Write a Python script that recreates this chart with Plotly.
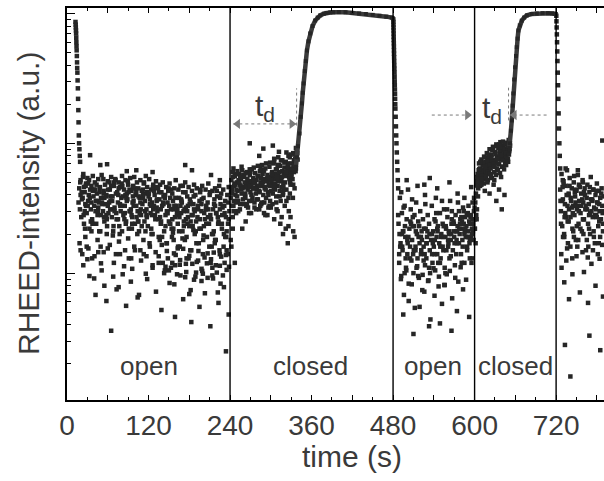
import numpy as np
import plotly.graph_objects as go

# ---------------- data ----------------
shutter_times = [240, 480, 600, 720]
phase_labels = ["open", "closed", "open", "closed"]
phase_label_t = [120, 358, 539, 660]

x_tick_vals = [0, 60, 120, 180, 240, 300, 360, 420, 480, 540, 600, 660, 720, 780]
x_tick_text = ["0", "", "120", "", "240", "", "360", "", "480", "", "600", "", "720", ""]
x_minor_vals = [30, 90, 150, 210, 270, 330, 390, 450, 510, 570, 630, 690, 750]
y_major_vals = [1, 10, 100, 1000]
y_minor_vals = [2, 3, 4, 5, 6, 7, 8, 9, 20, 30, 40, 50, 60, 70, 80, 90,
                200, 300, 400, 500, 600, 700, 800, 900]

# initial decay right after start
init_t = [12.5, 12.8, 13.0, 13.2, 13.4, 13.6, 13.8, 14.0, 14.2, 14.5, 14.8, 15.0,
          15.3, 15.6, 16.0, 16.3, 16.7, 17.0, 17.4, 17.8, 18.3, 18.8, 19.3]
init_I = [860, 820, 780, 740, 700, 650, 600, 560, 520, 470, 420, 380,
          350, 305, 265, 220, 180, 145, 115, 100, 90, 80, 72]

# shutter open, 0-240 s
open1_t = [18, 19, 20, 21, 23, 24, 25, 26, 27, 28,
           29, 30, 31, 33, 34, 35, 36, 37, 38, 39,
           40, 41, 43, 44, 45, 46, 47, 48, 49, 50,
           51, 53, 54, 55, 56, 57, 58, 59, 60, 61,
           63, 64, 65, 66, 67, 68, 69, 70, 71, 73,
           74, 75, 76, 77, 78, 79, 80, 81, 83, 84,
           85, 86, 87, 88, 89, 90, 91, 93, 94, 95,
           96, 97, 98, 99, 100, 101, 103, 104, 105, 106,
           107, 108, 109, 110, 111, 113, 114, 115, 116, 117,
           118, 119, 120, 121, 123, 124, 125, 126, 127, 128,
           129, 130, 131, 133, 134, 135, 136, 137, 138, 139,
           140, 141, 143, 144, 145, 146, 147, 148, 149, 150,
           151, 153, 154, 155, 156, 157, 158, 159, 160, 161,
           163, 164, 165, 166, 167, 168, 169, 170, 171, 173,
           174, 175, 176, 177, 178, 179, 180, 181, 183, 184,
           185, 186, 187, 188, 189, 190, 191, 193, 194, 195,
           196, 197, 198, 199, 200, 201, 203, 204, 205, 206,
           207, 208, 209, 210, 211, 213, 214, 215, 216, 217,
           218, 219, 220, 221, 223, 224, 225, 226, 227, 228,
           229, 230, 231, 233, 234, 235, 236, 237, 238, 239,
           22, 25, 28, 32, 35, 38, 42, 45, 48, 52,
           55, 58, 62, 65, 68, 72, 75, 78, 82, 85,
           88, 92, 95, 98, 102, 105, 108, 112, 115, 118,
           122, 125, 128, 132, 135, 138, 142, 145, 148, 152,
           155, 158, 162, 165, 168, 172, 175, 178, 182, 185,
           188, 192, 195, 198, 202, 205, 208, 212, 215, 218,
           222, 225, 228, 232, 235, 238, 20, 26, 31, 36,
           41, 46, 50, 54, 60, 64, 70, 76, 80, 86,
           92, 97, 102, 107, 112, 117, 122, 127, 132, 137,
           142, 147, 152, 157, 162, 167, 172, 177, 182, 187,
           20, 24, 29, 33, 37, 42, 46, 51, 55, 60,
           65, 69, 73, 78, 82, 87, 91, 96, 100, 104,
           109, 113, 118, 122, 126, 131, 135, 139, 143, 147,
           151, 155, 159, 163, 167, 171, 175, 179, 183, 187,
           191, 195, 199, 203, 207, 211, 215, 219, 223, 227,
           231, 235, 238, 145, 160, 180, 200, 212, 226, 234,
           150, 158, 166, 174, 182, 190, 198, 206, 214, 222,
           30, 40, 50, 58, 68, 76, 84, 94, 106, 116,
           34, 49, 59, 102, 126, 174, 184, 225, 212, 88]
open1_I = [45, 31, 52, 27, 38, 58, 24, 42, 34, 49,
           29, 54, 36, 22, 44, 31, 47, 26, 56, 39,
           33, 50, 24, 41, 28, 53, 35, 45, 21, 38,
           57, 30, 43, 25, 48, 34, 40, 23, 51, 29,
           44, 36, 55, 27, 39, 21, 47, 32, 53, 26,
           42, 35, 50, 23, 46, 30, 38, 56, 28, 44,
           33, 52, 25, 41, 37, 48, 22, 54, 31, 43,
           27, 46, 36, 55, 24, 40, 50, 30, 45, 21,
           38, 52, 28, 43, 34, 49, 25, 41, 56, 31,
           46, 23, 39, 53, 29, 44, 35, 20, 48, 33,
           40, 26, 51, 30, 45, 19, 37, 48, 24, 42,
           33, 50, 21, 38, 28, 46, 17, 35, 43, 25,
           49, 31, 22, 41, 36, 18, 45, 27, 52, 33,
           24, 44, 38, 16, 47, 29, 35, 21, 42, 31,
           50, 26, 19, 39, 33, 46, 23, 37, 15, 43,
           28, 34, 48, 20, 40, 25, 45, 31, 17, 36,
           42, 22, 30, 47, 14, 38, 26, 44, 33, 19,
           35, 49, 24, 40, 28, 16, 43, 31, 21, 37,
           45, 18, 29, 39, 25, 47, 14, 34, 41, 22,
           32, 44, 20, 36, 27, 15, 40, 24, 46, 30,
           37, 46, 33, 40, 25, 43, 30, 36, 42, 34,
           38, 28, 35, 47, 31, 41, 26, 34, 39, 29,
           36, 44, 28, 33, 42, 25, 35, 38, 30, 42,
           34, 28, 43, 36, 26, 31, 39, 23, 29, 38,
           26, 33, 29, 21, 37, 25, 32, 27, 35, 23,
           30, 27, 22, 34, 29, 24, 31, 26, 20, 33,
           27, 31, 24, 29, 21, 26, 40, 30, 49, 35,
           44, 32, 28, 41, 33, 39, 30, 45, 33, 40,
           30, 39, 33, 29, 40, 28, 37, 31, 32, 27,
           34, 30, 24, 31, 28, 33, 23, 30, 25, 31,
           15, 11.5, 16, 9.5, 13, 6.8, 14.5, 10.5, 8, 15.5,
           3.6, 12, 7.5, 14, 9.8, 5.6, 13, 10.8, 15, 6.5,
           12.5, 14, 9, 16, 11, 7.2, 13.5, 5.2, 10, 14.8,
           8.4, 12, 4.6, 15.5, 9.6, 6.3, 11.8, 13, 4.2, 8.9,
           12.2, 5.5, 10.4, 7, 14.2, 3.9, 9.1, 11.5, 5.9, 13.4,
           7.8, 10.6, 4.8, 11.2, 13.8, 6.9, 9.9, 12.8, 8.3, 2.5,
           10.5, 8.2, 11.6, 9.3, 7.4, 10.1, 8.7, 11.9, 9.6, 7.1,
           12.8, 9.1, 11.9, 6.1, 9.4, 7.8, 11.3, 8.6, 6.8, 9.9,
           81, 68, 69, 62, 60, 68, 62, 52, 57, 61]
# further readings inside the dense band, 0-240 s
open1_core_t = [17, 21.5, 24.5, 27.5, 30.5, 33.5, 36.5, 39.5, 42.5, 45.5,
                48.5, 51.5, 54.5, 57.5, 60.5, 63.5, 66.5, 69.5, 72.5, 75.5,
                78.5, 81.5, 84.5, 87.5, 90.5, 93.5, 96.5, 99.5, 102.5, 105.5,
                108.5, 111.5, 114.5, 117.5, 120.5, 123.5, 126.5, 129.5, 132.5, 135.5,
                138.5, 141.5, 144.5, 147.5, 150.5, 153.5, 156.5, 159.5, 162.5, 165.5,
                168.5, 171.5, 174.5, 177.5, 180.5, 183.5, 186.5, 189.5, 192.5, 195.5,
                198.5, 201.5, 204.5, 207.5, 210.5, 213.5, 216.5, 219.5, 222.5, 225.5,
                228.5, 231.5, 234.5, 237.5, 19.5, 23.5, 32.5, 43.5, 53.5, 62.5,
                71.5, 80.5, 89.5, 97.5, 113.5, 131.5, 149.5, 170.5, 196.5, 220.5,
                26.5, 37.5, 47.5, 58.5, 68.5, 77.5, 86.5, 95.5, 104.5, 115.5,
                124.5, 136.5, 146.5, 154.5, 163.5, 173.5, 181.5, 190.5, 200.5, 209.5,
                217.5, 224.5, 230.5, 236.5, 141, 159, 176, 193, 214, 232,
                18.5, 22.5, 27, 31.5, 36, 40.5, 45, 49.5, 54, 58.5,
                63, 67.5, 72, 76.5, 81, 85.5, 90, 94.5, 99, 103.5,
                108, 112.5, 117, 121.5, 126, 130.5, 135, 139.5, 144, 148.5,
                153, 157.5, 162, 166.5, 171, 175.5, 180, 184.5, 189, 193.5,
                198, 202.5, 207, 211.5, 216, 220.5, 225, 229.5, 234, 238.5,
                140, 156, 170, 186, 201, 218, 233, 124, 110, 96]
open1_core_I = [35, 42, 28, 47, 33, 38, 25, 44, 36, 30,
                46, 35, 27, 39, 44, 31, 36, 50, 29, 40,
                33, 47, 26, 38, 42, 30, 35, 45, 27, 39,
                31, 44, 36, 27, 41, 33, 46, 28, 37, 42,
                25, 35, 40, 29, 33, 44, 22, 38, 31, 27,
                36, 30, 42, 24, 34, 28, 39, 21, 33, 26,
                37, 23, 31, 27, 42, 20, 34, 29, 24, 38,
                28, 33, 19, 35, 50, 55, 52, 48, 53, 50,
                52, 49, 51, 47, 50, 46, 45, 47, 44, 43,
                22, 24, 21, 26, 23, 20, 24, 22, 25, 21,
                20, 18, 17, 19, 16, 18, 15, 17, 18, 16,
                17, 15, 16, 14, 12, 11.5, 13, 12.5, 11, 12,
                17, 14, 19, 15.5, 21, 13.5, 18, 16, 14.5, 20,
                16.5, 19.5, 14, 17.5, 21, 15, 18.5, 13, 16, 20,
                15, 18, 13.5, 17, 11.5, 14.5, 12, 16.5, 10.5, 13,
                11, 14.2, 9.8, 12.6, 15.4, 10.2, 13.6, 11.8, 9.4, 14.8,
                10.8, 13.2, 9.2, 12, 14.4, 10.1, 11.4, 9.6, 13.8, 11.2,
                19, 20.5, 18.5, 21.5, 19.5, 18, 19, 22, 23, 24]

# shutter closed, 240-338 s (before the rise)
closed1_t = [241, 242, 243, 244, 245, 246, 247, 248, 249, 250,
             251, 252, 253, 254, 255, 256, 257, 258, 259, 260,
             261, 262, 263, 264, 265, 266, 267, 268, 269, 270,
             271, 272, 273, 274, 275, 276, 277, 278, 279, 280,
             281, 282, 283, 284, 285, 286, 287, 288, 289, 290,
             291, 292, 293, 294, 295, 296, 297, 298, 299, 300,
             301, 302, 303, 304, 305, 306, 307, 308, 309, 310,
             311, 312, 313, 314, 315, 316, 317, 318, 319, 320,
             321, 322, 323, 324, 325, 326, 327, 328, 329, 330,
             331, 332, 333, 334, 335, 336, 337, 338, 334, 330,
             240.5, 243.5, 246.5, 249.5, 252.5, 255.5, 258.5, 261.5, 264.5, 267.5,
             270.5, 273.5, 276.5, 279.5, 282.5, 285.5, 288.5, 291.5, 294.5, 297.5,
             300.5, 303.5, 306.5, 309.5, 312.5, 315.5, 318.5, 321.5, 324.5, 327.5,
             244, 252, 263, 271, 283, 295, 305, 314, 322, 329,
             318, 326, 333, 310, 300, 247, 335, 325, 290, 258,
             269, 289, 303, 312, 283, 241, 242, 244]
closed1_I = [38, 52, 44, 60, 33, 47, 56, 40, 29, 50,
             43, 36, 58, 48, 34, 53, 41, 62, 37, 46,
             55, 39, 49, 33, 60, 44, 51, 36, 57, 42,
             48, 63, 38, 54, 45, 35, 59, 41, 52, 47,
             37, 56, 43, 61, 50, 34, 47, 58, 40, 53,
             45, 64, 38, 51, 57, 42, 48, 66, 36, 55,
             49, 60, 41, 70, 53, 44, 58, 39, 63, 47,
             56, 68, 43, 52, 74, 46, 61, 40, 57, 65,
             50, 72, 44, 59, 66, 38, 55, 78, 48, 62,
             70, 53, 84, 60, 45, 76, 64, 88, 72, 58,
             46, 41, 49, 44, 52, 47, 45, 50, 46, 48,
             51, 45, 49, 44, 47, 54, 50, 46, 52, 48,
             52, 57, 49, 54, 60, 51, 48, 56, 62, 53,
             27, 30, 25, 29, 31, 28, 26, 24, 22, 27,
             20, 23, 21, 30, 32, 12, 19, 17, 29, 22,
             100, 91, 96, 86, 80, 18, 16, 22]
closed1_core_t = [241.5, 244.5, 247.5, 250.5, 253.5, 256.5, 259.5, 262.5, 265.5, 268.5,
                  271.5, 274.5, 277.5, 280.5, 283.5, 286.5, 289.5, 292.5, 295.5, 298.5,
                  301.5, 304.5, 307.5, 310.5, 313.5, 316.5, 319.5, 322.5, 325.5, 328.5,
                  331.5, 334.5, 337.5, 330.5, 333.5, 336.5, 245.5, 262.5, 279.5, 296.5,
                  313, 318, 323, 328, 333, 308, 298, 287, 276, 265,
                  250, 270, 290, 310, 320, 335, 255, 285, 305, 326,
                  242.5, 248.5, 254.5, 260.5, 266.5, 272.5, 278.5, 284.5, 290.5, 296.5,
                  302.5, 308.5, 314.5, 320.5, 326.5, 332.5, 245, 257, 269, 281,
                  293, 305, 317, 329, 251, 263, 275, 287, 299, 311,
                  323, 337, 339, 339.5, 246, 268, 292, 316, 300, 318]
closed1_core_I = [42, 55, 48, 39, 50, 44, 57, 41, 53, 46,
                  40, 52, 45, 56, 42, 49, 61, 44, 54, 47,
                  58, 46, 63, 51, 67, 55, 44, 60, 70, 50,
                  64, 74, 80, 56, 68, 61, 36, 38, 37, 40,
                  39, 42, 36, 41, 48, 35, 33, 35, 32, 34,
                  58, 60, 62, 68, 71, 82, 55, 64, 72, 80,
                  33, 35, 31, 34, 32, 36, 31, 33, 35, 32,
                  34, 31, 36, 33, 30, 38, 64, 66, 63, 67,
                  70, 76, 74, 82, 61, 59, 65, 68, 71, 78,
                  85, 92, 84, 75, 30, 29, 28, 27, 43, 46]

# first rise after closing and plateau
rise1_t = [337, 338.5, 340, 342.3, 344, 345.8, 347, 348.2, 350, 351.5,
           353.2, 355.5, 358, 361.5, 365.4, 369, 372.8, 378, 382, 387.4,
           392, 400, 410, 420, 430, 440, 450, 460, 470, 478, 479.6]
rise1_I = [66, 78, 95, 119, 160, 203, 245, 289, 360, 430,
           519, 610, 702, 800, 883, 930, 966, 995, 1010, 1018,
           1020, 1025, 1020, 1010, 1000, 990, 975, 960, 945, 930, 920]

# drop after re-opening at 480 s
drop1_t = [480.3, 480.4, 480.5, 480.6, 480.7, 480.8, 480.9, 481.0, 481.1, 481.2,
           481.3, 481.4, 481.5, 481.65, 481.8, 481.95, 482.1, 482.25, 482.4, 482.55,
           482.7, 482.85, 483.0, 483.2, 483.4, 483.8, 484.2, 484.6, 485.0, 485.5,
           486.0, 486.5, 487.0, 487.5]
drop1_I = [900, 860, 820, 780, 740, 700, 660, 625, 590, 555,
           520, 490, 460, 430, 400, 375, 350, 325, 300, 280,
           260, 240, 220, 200, 185, 160, 135, 115, 100, 85,
           72, 62, 52, 45]

# shutter open, 480-600 s
open2_t = [488, 489, 490, 491, 492, 493, 494, 495, 496, 497,
           498, 499, 500, 501, 502, 503, 504, 505, 506, 507,
           508, 509, 510, 511, 512, 513, 514, 515, 516, 517,
           518, 519, 520, 521, 522, 523, 524, 525, 526, 527,
           528, 529, 530, 531, 532, 533, 534, 535, 536, 537,
           538, 539, 540, 541, 542, 543, 544, 545, 546, 547,
           548, 549, 550, 551, 552, 553, 554, 555, 556, 557,
           558, 559, 560, 561, 562, 563, 564, 565, 566, 567,
           568, 569, 570, 571, 572, 573, 574, 575, 576, 577,
           578, 579, 580, 581, 582, 583, 584, 585, 586, 587,
           588, 589, 590, 591, 592, 593, 594, 595, 596, 597,
           598, 598.5, 599, 489.5, 493.5, 497.5, 501.5, 505.5, 509.5, 513.5,
           517.5, 521.5, 525.5, 529.5, 533.5, 537.5, 541.5, 545.5, 549.5, 553.5,
           557.5, 561.5, 565.5, 569.5, 573.5, 577.5, 581.5, 585.5, 589.5, 593.5,
           492, 500, 508, 516, 527, 534, 545, 552, 563, 575, 585, 595,
           495, 503, 510, 519, 526, 533, 541, 549, 556, 566, 574, 583, 592]
open2_I = [24, 12, 38, 17, 9.5, 29, 15, 21, 6.8, 33,
           19, 11, 26, 14, 44, 8.3, 22, 16, 31, 12.5,
           18, 27, 10, 23, 5.4, 15, 35, 20, 13, 25,
           9.2, 17, 30, 14, 21, 7.4, 26, 16, 48, 11.5,
           22, 13, 19, 28, 8.8, 24, 15, 4.4, 18, 33,
           12, 21, 16, 26, 10.5, 38, 19, 14, 23, 7.9,
           17, 29, 13, 20, 5.8, 24, 15, 31, 11, 19,
           22, 9.8, 27, 16, 21, 13, 36, 18, 24, 6.4,
           15, 25, 19, 11.5, 28, 21, 17, 23, 8.6, 30,
           20, 26, 14, 22, 18, 32, 24, 12, 27, 19,
           23, 16, 29, 21, 25, 13, 27, 19, 22, 26,
           24, 18, 30, 20, 16, 23, 17, 25, 14, 21,
           19, 15, 22, 17, 20, 14, 18, 21, 16, 19,
           23, 17, 20, 24, 18, 22, 25, 21, 19, 24,
           42, 52, 37, 47, 40, 54, 45, 36, 50, 41, 38, 46,
           4.8, 6.1, 3.4, 5.5, 7.2, 3.9, 6.7, 4.1, 8.1, 3.6, 5.1, 7.5, 4.6]
open2_core_t = [487.5, 490.5, 494.5, 498.5, 502.5, 506.5, 510.5, 514.5, 518.5, 522.5,
                526.5, 530.5, 534.5, 538.5, 542.5, 546.5, 550.5, 554.5, 558.5, 562.5,
                566.5, 570.5, 574.5, 578.5, 582.5, 586.5, 590.5, 594.5, 597.5, 599.5,
                491.5, 499.5, 507.5, 515.5, 523.5, 531.5, 539.5, 547.5, 555.5, 563.5,
                571.5, 579.5, 587.5, 595.5, 495.5, 511.5, 527.5, 543.5, 559.5, 575.5,
                584, 591, 597, 592.5, 588.5, 596.5, 600, 599.8, 599.5, 599.2,
                489, 493, 497, 501, 505, 509, 513, 517, 521, 525,
                529, 533, 537, 541, 545, 549, 553, 557, 561, 565,
                569, 573, 577, 581, 585, 589, 593, 597, 580.5, 566.5]
open2_core_I = [28, 16, 21, 13, 19, 24, 15, 11, 23, 18,
                14, 21, 10, 17, 25, 12, 19, 23, 15, 20,
                26, 17, 21, 24, 16, 22, 19, 28, 21, 26,
                9, 10.5, 8.2, 11.3, 9.7, 8.7, 10.9, 9.4, 8.1, 10.4,
                9.2, 11.1, 8.9, 12, 32, 28, 34, 29, 31, 35,
                30, 33, 35, 17, 28, 20, 32, 26, 22, 38,
                14, 20, 10, 18, 13, 23, 16, 9.5, 19, 12.5,
                17, 11, 20, 14, 22, 12, 16, 10, 18, 13.5,
                21, 14, 17, 12, 20, 15, 18, 13, 27, 30]

# shutter closed, 600-652 s (before the rise)
closed2_t = [600.5, 601, 601.5, 602, 602.5, 603, 603.5, 604, 605, 606,
             604.5, 606.5, 607, 608, 609, 610, 611, 612, 613, 614,
             615, 616, 617, 618, 619, 620, 621, 622, 623, 624,
             625, 626, 627, 628, 629, 630, 631, 632, 633, 634,
             635, 636, 637, 638, 639, 640, 641, 642, 643, 644,
             645, 646, 647, 648, 649, 650, 651, 652, 620, 630,
             612.5, 617.5, 622.5, 627.5, 632.5, 637.5, 642.5, 647.5, 609.5, 615.5,
             608, 615, 622, 628, 636, 644, 611, 603, 632, 640,
             603.2, 606.8, 609.8, 612.8, 615.8, 618.8, 621.8, 624.8, 627.8, 630.8,
             633.8, 636.8, 639.8, 642.8, 645.8, 648.8, 651.5, 626.2, 638.2, 646.2,
             611.2, 619.2, 623.6, 629.4, 634.6, 641.4, 647.2, 650.6, 616.4, 605.4,
             604.2, 607.6, 610.6, 613.6, 616.6, 619.6, 622.6, 625.6, 628.6, 631.6,
             634.4, 637.4, 640.4, 643.4, 646.4, 649.4, 652.2, 608.4, 614.2, 620.4,
             626.8, 632.2, 636.2, 641.8, 645.2, 650.2, 639, 629, 619, 610]
closed2_I = [22, 35, 17, 41, 28, 48, 31, 55, 39, 62,
             58, 70, 52, 64, 57, 75, 60, 68, 54, 79,
             63, 72, 58, 84, 66, 77, 61, 90, 70, 56,
             81, 67, 94, 74, 60, 86, 71, 98, 64, 79,
             92, 69, 83, 102, 75, 88, 66, 96, 78, 85,
             70, 99, 82, 91, 76, 94, 87, 100, 68, 72,
             63, 69, 74, 72, 78, 80, 82, 86, 60, 67,
             47, 43, 41, 48, 44, 40, 52, 26, 36, 31,
             51, 63, 55, 71, 62, 73, 68, 78, 70, 83,
             76, 88, 81, 91, 85, 95, 90, 88, 94, 78,
             56, 60, 64, 66, 70, 74, 73, 82, 53, 45,
             47, 50, 53, 49, 55, 52, 58, 54, 60, 57,
             62, 59, 66, 63, 68, 72, 96, 72, 78, 82,
             90, 95, 98, 103, 101, 106, 55, 52, 50, 48]

rise2_t = [651, 652, 653.5, 654.7, 656, 657, 658.3, 659.6, 661, 662,
           663.3, 664.5, 666.5, 669.5, 673, 677, 684, 691.5, 700, 708,
           714, 718, 719.6]
rise2_I = [92, 100, 125, 150, 195, 242, 310, 385, 470, 550,
           640, 740, 810, 880, 930, 966, 990, 1000, 1005, 1005,
           1000, 995, 990]

drop2_t = [720.3, 720.5, 720.8, 721.1, 721.4, 721.7, 722, 722.4, 722.8, 723.2,
           723.7, 724.2, 724.8, 725.4, 726]
drop2_I = [960, 870, 780, 690, 600, 510, 430, 350, 280, 220,
           170, 130, 100, 80, 64]

# shutter open again, 720 s onwards
open3_t = [726, 727, 728, 729, 730, 731, 732, 733, 734, 735,
           736, 737, 738, 739, 740, 741, 742, 743, 744, 745,
           746, 747, 748, 749, 750, 751, 752, 753, 754, 755,
           756, 757, 758, 759, 760, 761, 762, 763, 764, 765,
           766, 767, 768, 769, 770, 771, 772, 773, 774, 775,
           776, 777, 778, 779, 780, 781, 782, 783, 784, 785,
           786, 787, 788, 789, 790, 728.5, 733.5, 738.5, 743.5, 748.5,
           753.5, 758.5, 763.5, 768.5, 773.5, 778.5, 783.5, 788.5, 731, 761,
           728, 732, 735, 739, 744, 750, 755, 761, 767, 772,
           778, 784, 789, 741, 769, 785, 733,
           788, 734, 752,
           726.5, 729.5, 732.5, 735.5, 738.5, 741.5, 744.5, 747.5, 750.5, 753.5,
           756.5, 759.5, 762.5, 765.5, 768.5, 771.5, 774.5, 777.5, 780.5, 783.5,
           786.5, 789.5, 730.2, 737.4, 745.2, 752.6, 760.2, 767.4, 775.6, 782.8,
           727.6, 736.2, 743.8, 751.2, 758.8, 766.6, 774.2, 781.4, 787.8, 746.6,
           727.2, 731.8, 736.8, 741.2, 746.2, 750.8, 755.8, 760.6, 765.2, 770.2,
           775.2, 779.8, 784.8, 789.2, 729.8, 739.8, 749.4, 759.4, 769.6, 779.4]
open3_I = [44, 30, 58, 23, 37, 51, 19, 34, 47, 27,
           62, 25, 40, 31, 54, 16, 36, 45, 22, 33,
           50, 28, 39, 18, 43, 33, 57, 24, 36, 46,
           29, 41, 21, 52, 35, 26, 45, 31, 15, 38,
           48, 24, 34, 42, 20, 55, 30, 37, 27, 44,
           32, 17, 40, 28, 49, 35, 23, 43, 30, 38,
           26, 45, 33, 21, 39, 36, 29, 41, 32, 35,
           30, 37, 33, 28, 36, 31, 34, 29, 48, 42,
           11, 8.5, 12.5, 6.3, 9.8, 13.5, 7.1, 10.2, 5.9, 11.8,
           8.0, 12.9, 6.6, 1.6, 3.3, 2.55, 2.8,
           105, 64, 62,
           36, 46, 27, 40, 25, 38, 29, 42, 23, 48,
           33, 26, 40, 31, 22, 37, 44, 28, 35, 25,
           41, 30, 19, 17, 21, 18, 20, 16, 19, 17,
           14, 15.5, 13, 16, 14.5, 13.2, 15, 14, 16.5, 56,
           24, 20, 33, 27, 19, 31, 22, 26, 18, 29,
           21, 27, 19, 24, 52, 47, 44, 50, 46, 43]

# t_d markers
td1_t = [244.8, 337.5]
td1_I = [141, 141]
td1_guide_t = [338, 338]
td1_guide_I = [137, 265]
td2_left_t = [537, 596]
td2_right_t = [706, 652]
td2_I = [165, 165]
td2_guide_t = [650, 650]
td2_guide_I = [150, 268]

for a, b in [(init_t, init_I), (open1_t, open1_I), (open1_core_t, open1_core_I),
             (closed1_t, closed1_I), (closed1_core_t, closed1_core_I),
             (rise1_t, rise1_I), (drop1_t, drop1_I), (open2_t, open2_I),
             (open2_core_t, open2_core_I), (closed2_t, closed2_I),
             (rise2_t, rise2_I), (drop2_t, drop2_I), (open3_t, open3_I)]:
    assert len(a) == len(b), (len(a), len(b), a[:3])

# ---------------- figure ----------------
PT = "#262626"
GREY = "#7a7a7a"
FONT = "Liberation Sans, Arial, sans-serif"
TXT = "#3a3a3a"

scatter_t = (init_t + open1_t + open1_core_t + closed1_t + closed1_core_t + drop1_t
             + open2_t + open2_core_t + closed2_t + drop2_t + open3_t)
scatter_I = (init_I + open1_I + open1_core_I + closed1_I + closed1_core_I + drop1_I
             + open2_I + open2_core_I + closed2_I + drop2_I + open3_I)

fig = go.Figure()
fig.add_trace(go.Scatter(x=scatter_t, y=scatter_I, mode="markers",
                         marker=dict(symbol="square", size=4.5, color=PT, line=dict(width=0)),
                         hoverinfo="skip"))
for tt, ii in [(rise1_t, rise1_I), (rise2_t, rise2_I)]:
    fig.add_trace(go.Scatter(x=tt, y=ii, mode="lines+markers",
                             line=dict(color="#3a3a3a", width=4.5),
                             marker=dict(symbol="square", size=4, color=PT),
                             hoverinfo="skip"))

# t_d arrows and guides
dot_line = dict(color=GREY, width=1, dash="dot")
fig.add_trace(go.Scatter(x=td1_t, y=td1_I, mode="lines", line=dot_line, hoverinfo="skip"))
fig.add_trace(go.Scatter(x=td1_guide_t, y=td1_guide_I, mode="lines", line=dot_line, hoverinfo="skip"))
fig.add_trace(go.Scatter(x=td2_left_t, y=td2_I, mode="lines", line=dot_line, hoverinfo="skip"))
fig.add_trace(go.Scatter(x=td2_right_t, y=td2_I, mode="lines", line=dot_line, hoverinfo="skip"))
fig.add_trace(go.Scatter(x=td2_guide_t, y=td2_guide_I, mode="lines", line=dot_line, hoverinfo="skip"))
head_dt = 6.5
fig.add_trace(go.Scatter(
    x=[td1_t[0] + head_dt, td1_t[1] - head_dt, td2_left_t[1] - head_dt, td2_right_t[1] + head_dt],
    y=[td1_I[0], td1_I[1], td2_I[1], td2_I[1]],
    mode="markers",
    marker=dict(symbol=["triangle-left", "triangle-right", "triangle-right", "triangle-left"],
                size=9, color=GREY, line=dict(width=0)),
    hoverinfo="skip"))

# invisible trace for the top axis
fig.add_trace(go.Scatter(x=[0], y=[10], xaxis="x2", mode="markers",
                         marker=dict(opacity=0), hoverinfo="skip"))

shapes = [dict(type="line", xref="x", yref="paper", x0=t, x1=t, y0=0, y1=1,
               line=dict(color="black", width=1.4)) for t in shutter_times]

annotations = []
for lab, t in zip(phase_labels, phase_label_t):
    annotations.append(dict(x=t, y=0.087, xref="x", yref="paper", text=lab, showarrow=False,
                            font=dict(family=FONT, size=26, color=TXT), xanchor="center", yanchor="middle"))
for tx, ty in [(292, 0.745), (625, 0.740)]:
    annotations.append(dict(x=tx, y=ty, xref="x", yref="paper", text="t<sub>d</sub>", showarrow=False,
                            xanchor="center", yanchor="middle",
                            font=dict(family=FONT, size=30, color=TXT)))
annotations.append(dict(x=-0.0726, y=0.5, xref="paper", yref="paper", text="RHEED-intensity (a.u.)",
                        textangle=-90, showarrow=False, xanchor="center", yanchor="middle",
                        font=dict(family=FONT, size=30, color=TXT)))
annotations.append(dict(x=0.531, y=-0.1454, xref="paper", yref="paper", text="time (s)",
                        showarrow=False, xanchor="center", yanchor="middle",
                        font=dict(family=FONT, size=30, color=TXT)))

x_range = [0, 790.5]
fig.update_layout(
    width=604, height=481,
    margin=dict(l=67, r=0, t=8, b=81),
    paper_bgcolor="white", plot_bgcolor="white",
    showlegend=False,
    shapes=shapes, annotations=annotations,
    xaxis=dict(range=x_range, showline=True, linecolor="black", linewidth=1.6,
               ticks="inside", ticklen=5, tickwidth=1, tickcolor="black",
               tickvals=x_tick_vals, ticktext=x_tick_text,
               minor=dict(tickvals=x_minor_vals, ticks="inside", ticklen=3, tickcolor="black"),
               tickfont=dict(family=FONT, size=28, color=TXT),
               showgrid=False, zeroline=False, mirror=False),
    xaxis2=dict(range=x_range, overlaying="x", side="top", anchor="y",
                showline=True, linecolor="black", linewidth=1.6,
                ticks="inside", ticklen=5, tickwidth=1, tickcolor="black",
                tickvals=x_tick_vals, showticklabels=False,
                minor=dict(tickvals=x_minor_vals, ticks="inside", ticklen=3, tickcolor="black"),
                showgrid=False, zeroline=False),
    yaxis=dict(type="log", range=[0.023, 3.042], showline=True, linecolor="black", linewidth=1.6,
               ticks="inside", ticklen=8, tickwidth=1, tickcolor="black",
               tickvals=y_major_vals, showticklabels=False,
               minor=dict(tickvals=y_minor_vals, ticks="inside", ticklen=4, tickcolor="black"),
               showgrid=False, zeroline=False, mirror=False),
)

fig.write_html("out.html")
